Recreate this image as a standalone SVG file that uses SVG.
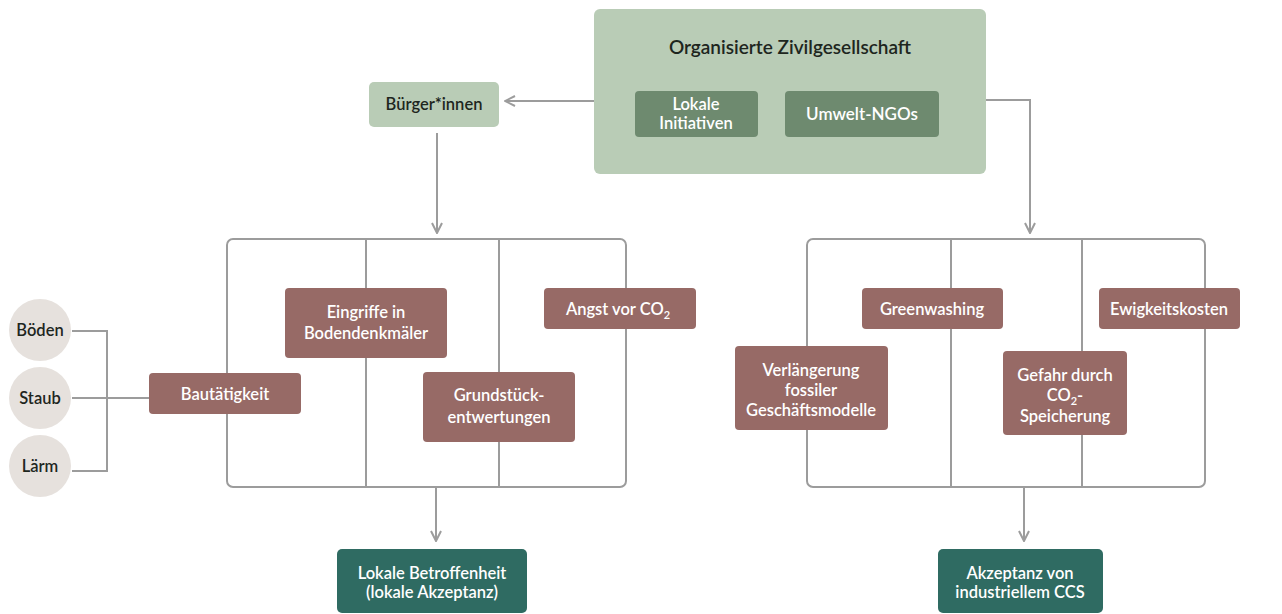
<svg xmlns="http://www.w3.org/2000/svg" width="1282" height="614" viewBox="0 0 1282 614">
<defs>
<style>
text{font-family:Lato,"Noto Sans","Liberation Sans",sans-serif;font-weight:600;font-size:16.5px;text-anchor:middle}
.lg{fill:#b9ccb6}
.mg{fill:#6e8a6f}
.br{fill:#976a66}
.tl{fill:#2f6b62}
.ci{fill:#e6e1dd}
.w{fill:#ffffff}
.d{fill:#1e261e}
.ln{fill:none;stroke:#9c9c9c;stroke-width:2}
.sub{font-size:11px}
</style>
<marker id="ah" viewBox="0 0 12 12" refX="11" refY="6" markerWidth="12" markerHeight="12" markerUnits="userSpaceOnUse" orient="auto">
<path d="M1,1 L11,6 L1,11" fill="none" stroke="#9c9c9c" stroke-width="2"/>
</marker>
</defs>
<rect width="1282" height="614" fill="#ffffff"/>

<g id="connectors">
<path class="ln" d="M594,101 H505" marker-end="url(#ah)"/>
<path class="ln" d="M437,133 V233" marker-end="url(#ah)"/>
<path class="ln" d="M986,100 H1030 V233" marker-end="url(#ah)"/>
<rect class="ln" x="227" y="239" width="399" height="248" rx="6"/>
<path class="ln" d="M366,239 V487 M499,239 V487"/>
<rect class="ln" x="807" y="239" width="398" height="248" rx="6"/>
<path class="ln" d="M951,239 V487 M1082,239 V487"/>
<path class="ln" d="M436,487 V541" marker-end="url(#ah)"/>
<path class="ln" d="M1024,487 V541" marker-end="url(#ah)"/>
<path class="ln" d="M72,331 H107 V471 H72 M72,398 H149"/>
</g>

<g id="zivilgesellschaft">
<rect class="lg" x="594" y="9" width="392" height="165" rx="6"/>
<text class="d" x="790" y="54" style="font-size:19px">Organisierte Zivilgesellschaft</text>
</g>
<g id="lokale-initiativen">
<rect class="mg" x="635" y="91" width="123" height="46" rx="4"/>
<text class="w" x="696" y="110" style="font-size:16.5px">Lokale</text>
<text class="w" x="696" y="129" style="font-size:16.5px">Initiativen</text>
</g>
<g id="umwelt-ngos">
<rect class="mg" x="785" y="91" width="154" height="46" rx="4"/>
<text class="w" x="862" y="120" style="font-size:17px">Umwelt-NGOs</text>
</g>
<g id="buerger">
<rect class="lg" x="369" y="82" width="130" height="45" rx="5"/>
<text class="d" x="434" y="110" style="font-size:16.5px">Bürger*innen</text>
</g>

<g id="boeden">
<circle class="ci" cx="40" cy="330" r="31"/>
<text class="d" x="40" y="336" style="font-size:16.5px">Böden</text>
</g>
<g id="staub">
<circle class="ci" cx="40" cy="398" r="31"/>
<text class="d" x="40" y="404" style="font-size:16.5px">Staub</text>
</g>
<g id="laerm">
<circle class="ci" cx="40" cy="466" r="31"/>
<text class="d" x="40" y="472" style="font-size:16.5px">Lärm</text>
</g>

<g id="bautaetigkeit">
<rect class="br" x="149" y="373" width="152" height="41" rx="4"/>
<text class="w" x="225" y="400">Bautätigkeit</text>
</g>
<g id="eingriffe">
<rect class="br" x="285" y="288" width="162" height="70" rx="4"/>
<text class="w" x="366" y="318">Eingriffe in</text>
<text class="w" x="366" y="339">Bodendenkmäler</text>
</g>
<g id="angst">
<rect class="br" x="544" y="288" width="152" height="41" rx="4"/>
<text class="w" x="618" y="315">Angst vor CO<tspan class="sub" dy="4">2</tspan></text>
</g>
<g id="grundstueck">
<rect class="br" x="423" y="372" width="152" height="70" rx="4"/>
<text class="w" x="499" y="401">Grundstück-</text>
<text class="w" x="499" y="423">entwertungen</text>
</g>

<g id="greenwashing">
<rect class="br" x="862" y="288" width="141" height="41" rx="4"/>
<text class="w" x="932" y="315">Greenwashing</text>
</g>
<g id="ewigkeitskosten">
<rect class="br" x="1099" y="288" width="141" height="41" rx="4"/>
<text class="w" x="1169" y="315">Ewigkeitskosten</text>
</g>
<g id="verlaengerung">
<rect class="br" x="735" y="346" width="153" height="84" rx="4"/>
<text class="w" x="811" y="376">Verlängerung</text>
<text class="w" x="811" y="396">fossiler</text>
<text class="w" x="811" y="416">Geschäftsmodelle</text>
</g>
<g id="gefahr">
<rect class="br" x="1003" y="351" width="124" height="84" rx="4"/>
<text class="w" x="1065" y="381">Gefahr durch</text>
<text class="w" x="1065" y="401">CO<tspan class="sub" dy="4">2</tspan><tspan dy="-4">-</tspan></text>
<text class="w" x="1065" y="422">Speicherung</text>
</g>

<g id="lokale-betroffenheit">
<rect class="tl" x="337" y="549" width="190" height="64" rx="5"/>
<text class="w" x="432" y="579">Lokale Betroffenheit</text>
<text class="w" x="432" y="598">(lokale Akzeptanz)</text>
</g>
<g id="akzeptanz-ccs">
<rect class="tl" x="938" y="549" width="165" height="64" rx="5"/>
<text class="w" x="1020" y="579">Akzeptanz von</text>
<text class="w" x="1020" y="598">industriellem CCS</text>
</g>
</svg>
